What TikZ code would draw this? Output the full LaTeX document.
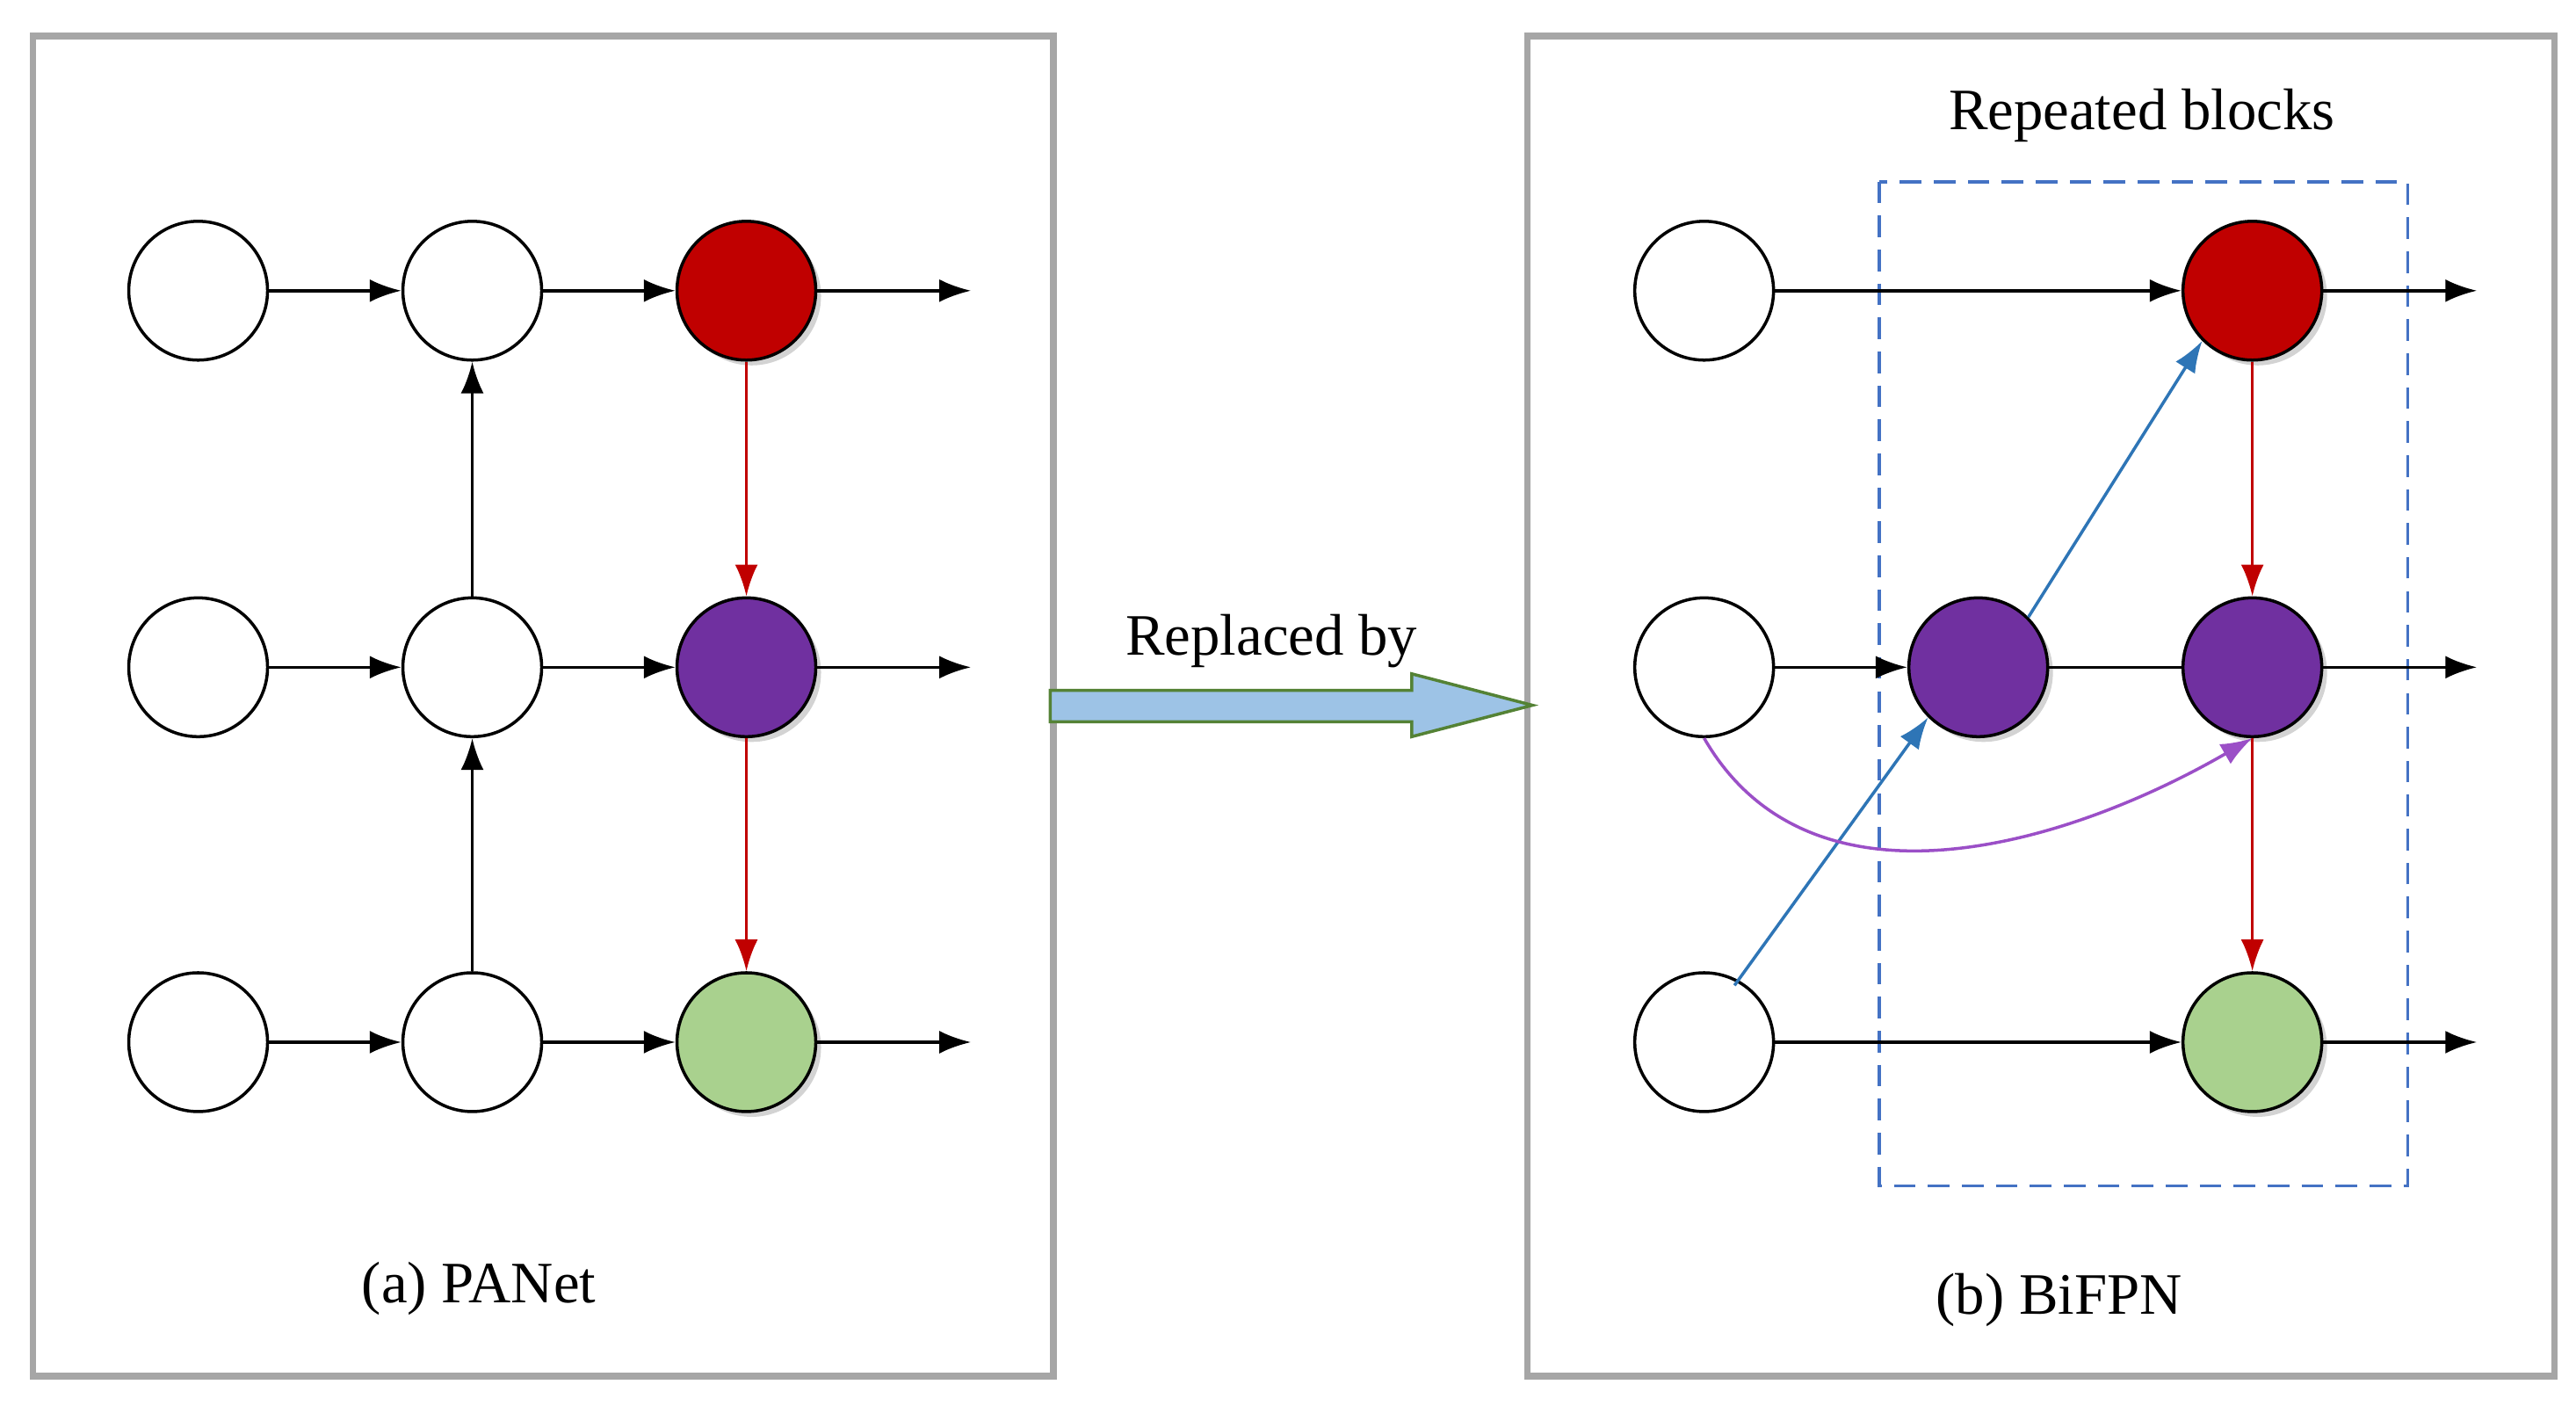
\documentclass[tikz,border=0pt]{standalone}
\usepackage{fontspec}
\setmainfont{Liberation Serif}
\usetikzlibrary{positioning,arrows.meta,shadows}
\definecolor{fred}{HTML}{C00000}
\definecolor{fpurple}{HTML}{7030A0}
\definecolor{fgreen}{HTML}{A9D18E}
\definecolor{fblue}{HTML}{2E75B6}
\definecolor{fcurve}{HTML}{9B4FC7}
\definecolor{fbig}{HTML}{9DC3E6}
\definecolor{fbigb}{HTML}{548235}
\definecolor{fpanel}{HTML}{A6A6A6}
\definecolor{fdash}{HTML}{4472C4}
\tikzset{
    feat/.style={circle,draw,line width=1pt,minimum size=1.58cm,inner sep=0pt,fill=white},
    filled/.style={feat,fill=#1,drop shadow={shadow xshift=0.06cm,shadow yshift=-0.06cm,opacity=0.35}},
    flow/.style={-{Latex[length=3.6mm,width=2.6mm]},line width=1pt},
    panel/.style={draw=fpanel,line width=2.2pt},
    lbl/.style={font=\fontsize{19}{23}\selectfont}
}
\begin{document}
\begin{tikzpicture}[x=0.018795cm,y=-0.018795cm]
    \useasboundingbox (0,0) rectangle (1560,851);
    % panels
    \draw[panel] (20,22) rectangle (638,833);
    \draw[panel] (925,22) rectangle (1547,833);
    % left: PANet
    \foreach \r/\y in {1/176,2/404,3/631} {
        \node[feat] (a\r) at (120,\y) {};
        \node[feat] (b\r) at (286,\y) {};
        \coordinate (ao\r) at (588,\y);
        \coordinate (bo\r) at (1500,\y);
        \node[feat] (p\r) at (1032,\y) {};
    }
    \node[filled=fred]    (c1) at (452,176) {};
    \node[filled=fpurple] (c2) at (452,404) {};
    \node[filled=fgreen]  (c3) at (452,631) {};
    \foreach \r in {1,2,3} {
        \draw[flow] (a\r) -- (b\r);
        \draw[flow] (b\r) -- (c\r);
        \draw[flow] (c\r) -- (ao\r);
    }
    \draw[flow] (b3) -- (b2);
    \draw[flow] (b2) -- (b1);
    \draw[flow,fred] (c1) -- (c2);
    \draw[flow,fred] (c2) -- (c3);
    % right: BiFPN
    \draw[dashed,fdash,line width=1pt,dash pattern=on 7pt off 4pt] (1138,110) rectangle (1458,718);
    \node[lbl] (rep) at (1297,70) {Repeated blocks};
    \node[filled=fpurple] (m2) at (1198,404) {};
    \node[filled=fred]    (q1) at (1364,176) {};
    \node[filled=fpurple] (q2) at (1364,404) {};
    \node[filled=fgreen]  (q3) at (1364,631) {};
    \draw[flow] (p1) -- (q1);
    \draw[flow] (p2) -- (m2);
    \draw[line width=1pt] (m2) -- (q2);
    \draw[flow] (p3) -- (q3);
    \foreach \r in {1,2,3} \draw[flow] (q\r) -- (bo\r);
    \draw[flow,fred] (q1) -- (q2);
    \draw[flow,fred] (q2) -- (q3);
    \draw[flow,fblue] (p3.north east) ++(-12,-4) coordinate (s3) (s3) -- (m2.south west);
    \draw[flow,fblue] (m2.north east) -- (q1.south west);
    \draw[flow,fcurve] (p2.south) to[out=-60,in=-150] (q2.south);
    % transition arrow
    \node[lbl] (rb) at (770,388) {Replaced by};
    \draw[fill=fbig,draw=fbigb,line width=1pt] (636,418) -- (855,418) -- (855,408) -- (928,427)
        -- (855,446) -- (855,437) -- (636,437) -- cycle;
    % captions
    \node[lbl] (capa) at (290,780) {(a) PANet};
    \node[lbl] (capb) at (1247,787) {(b) BiFPN};
\end{tikzpicture}
\end{document}
